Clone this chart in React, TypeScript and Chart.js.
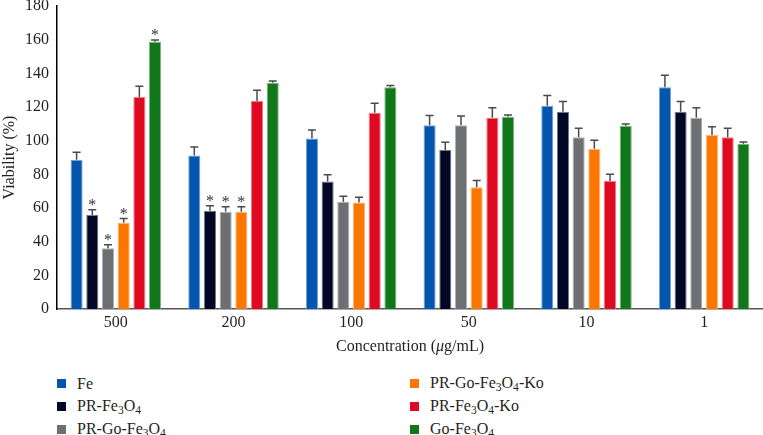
import React, { useEffect, useRef } from 'react';
import { Chart, registerables } from 'chart.js';

Chart.register(...registerables);

const FONT = "'Liberation Serif', 'Times New Roman', serif";
const TEXT = '#231f20';

// ---- data ----
const categories = ['500', '200', '100', '50', '10', '1'];
const yTicksMax = 180;
const yTickStep = 20;

const seriesNames = ['Fe', 'PR-Fe3O4', 'PR-Go-Fe3O4', 'PR-Go-Fe3O4-Ko', 'PR-Fe3O4-Ko', 'Go-Fe3O4'];

const feValues = [88.6, 91.2, 101.3, 109.2, 120.8, 131.8];
const feErrors = [4.5, 5.0, 5.0, 5.8, 6.0, 7.0];
const feMarks = ['', '', '', '', '', ''];

const prFe3O4Values = [55.9, 58.3, 75.7, 94.4, 117.2, 117.2];
const prFe3O4Errors = [3.0, 3.0, 4.0, 4.7, 6.0, 6.0];
const prFe3O4Marks = ['*', '*', '', '', '', ''];

const prGoFe3O4Values = [36.1, 57.7, 63.7, 109.2, 102.1, 113.6];
const prGoFe3O4Errors = [2.0, 3.0, 3.3, 5.4, 5.3, 6.0];
const prGoFe3O4Marks = ['*', '*', '', '', '', ''];

const prGoFe3O4KoValues = [51.2, 57.7, 63.2, 72.3, 95.2, 103.3];
const prGoFe3O4KoErrors = [2.5, 3.0, 3.2, 4.0, 5.0, 5.0];
const prGoFe3O4KoMarks = ['*', '*', '', '', '', ''];

const prFe3O4KoValues = [125.9, 123.5, 116.6, 113.6, 76.1, 102.1];
const prFe3O4KoErrors = [6.5, 6.4, 5.7, 6.0, 4.0, 5.3];
const prFe3O4KoMarks = ['', '', '', '', '', ''];

const goFe3O4Values = [158.8, 134.4, 131.8, 114.2, 108.9, 98.2];
const goFe3O4Errors = [1.0, 1.0, 1.0, 1.0, 1.0, 1.0];
const goFe3O4Marks = ['*', '', '', '', '', ''];

const xTitleParts = [
  { text: 'Concentration (', italic: false },
  { text: 'μ', italic: true },
  { text: 'g/mL)', italic: false },
];
const yTitle = 'Viability (%)';

// ---- styles ----
const colors = ['#0455ad', '#030726', '#6d6f72', '#fb7701', '#df0a1f', '#10771a'];

const allValues = [feValues, prFe3O4Values, prGoFe3O4Values, prGoFe3O4KoValues, prFe3O4KoValues, goFe3O4Values];
const allErrors = [feErrors, prFe3O4Errors, prGoFe3O4Errors, prGoFe3O4KoErrors, prFe3O4KoErrors, goFe3O4Errors];
const allMarks = [feMarks, prFe3O4Marks, prGoFe3O4Marks, prGoFe3O4KoMarks, prFe3O4KoMarks, goFe3O4Marks];

function tint(hex: string, amt: number) {
  const n = parseInt(hex.slice(1), 16);
  const r = (n >> 16) & 255, g = (n >> 8) & 255, b = n & 255;
  const m = (c: number) => Math.round(c + (255 - c) * amt);
  return `rgb(${m(r)},${m(g)},${m(b)})`;
}

const errorBarPlugin = {
  id: 'errorBars',
  afterDatasetsDraw(chart: any) {
    const ctx = chart.ctx;
    const y = chart.scales.y;
    ctx.save();
    allValues.forEach((vals, i) => {
      const meta = chart.getDatasetMeta(i);
      meta.data.forEach((el: any, j: number) => {
        const top = y.getPixelForValue(vals[j] + allErrors[i][j]);
        const x = el.x;
        ctx.strokeStyle = '#4a4a4a';
        ctx.lineWidth = 1.5;
        ctx.beginPath();
        ctx.moveTo(x, el.y);
        ctx.lineTo(x, top);
        ctx.moveTo(x - 4, top);
        ctx.lineTo(x + 4, top);
        ctx.stroke();
        const mark = allMarks[i][j];
        if (mark) {
          ctx.fillStyle = '#333';
          ctx.font = `16px ${FONT}`;
          ctx.textAlign = 'center';
          ctx.textBaseline = 'alphabetic';
          ctx.fillText(mark, x, top);
        }
      });
    });
    ctx.restore();
  },
};

const xTitlePlugin = {
  id: 'xTitle',
  afterDraw(chart: any) {
    const ctx = chart.ctx;
    const xs = chart.scales.x;
    const cx = (xs.left + xs.right) / 2;
    const cy = 347;
    ctx.save();
    ctx.fillStyle = TEXT;
    ctx.textBaseline = 'middle';
    ctx.textAlign = 'left';
    const fontOf = (it: boolean) => `${it ? 'italic ' : ''}16px ${FONT}`;
    let total = 0;
    xTitleParts.forEach((p) => {
      ctx.font = fontOf(p.italic);
      total += ctx.measureText(p.text).width;
    });
    let x = cx - total / 2;
    xTitleParts.forEach((p) => {
      ctx.font = fontOf(p.italic);
      ctx.fillText(p.text, x, cy);
      x += ctx.measureText(p.text).width;
    });
    ctx.restore();
  },
};

function renderName(name: string) {
  const parts = name.split(/(\d)/);
  return parts.map((p, k) =>
    /^\d$/.test(p) ? (
      <span key={k} style={{ fontSize: '0.72em', position: 'relative', top: '0.3em' }}>{p}</span>
    ) : (
      <span key={k}>{p}</span>
    )
  );
}

export default function App() {
  const ref = useRef<HTMLCanvasElement>(null);

  useEffect(() => {
    const chart = new Chart(ref.current as HTMLCanvasElement, {
      type: 'bar',
      data: {
        labels: categories,
        datasets: seriesNames.map((name, i) => ({
          label: name,
          data: allValues[i],
          backgroundColor: colors[i],
          borderColor: tint(colors[i], 0.45),
          borderWidth: 1,
          borderSkipped: 'bottom',
          categoryPercentage: 0.8,
          barPercentage: 0.77,
        })),
      },
      options: {
        responsive: false,
        animation: false,
        layout: { padding: { top: 0, left: 0, right: 0, bottom: 0 } },
        plugins: {
          legend: { display: false },
          tooltip: { enabled: false },
        },
        scales: {
          x: {
            grid: { display: false, drawTicks: false },
            border: { display: true, color: '#555', width: 1.5 },
            ticks: { color: TEXT, font: { family: FONT, size: 16 }, padding: 4 },
            afterFit: (s: any) => {
              s.height = 56;
            },
          },
          y: {
            min: 0,
            max: yTicksMax,
            grid: { display: false, drawTicks: false },
            border: { display: true, color: '#000', width: 1.5 },
            ticks: { stepSize: yTickStep, color: TEXT, font: { family: FONT, size: 16 }, padding: 8 },
            title: {
              display: true,
              text: yTitle,
              color: TEXT,
              font: { family: FONT, size: 16 },
              padding: { top: 0, bottom: 0 },
            },
            afterFit: (s: any) => {
              s.width = 57;
              s.paddingTop = 6;
            },
          },
        },
      },
      plugins: [errorBarPlugin, xTitlePlugin],
    } as any);
    return () => chart.destroy();
  }, []);

  const rowsY = [383.5, 406, 429];
  return (
    <div
      style={{
        position: 'fixed',
        left: 0,
        top: 0,
        width: 763,
        height: 435,
        background: '#fff',
        fontFamily: FONT,
        color: TEXT,
        overflow: 'hidden',
      }}
    >
      <canvas ref={ref} width={763} height={365} style={{ display: 'block', width: 763, height: 365 }} />
      {seriesNames.map((name, i) => {
        const col = Math.floor(i / 3);
        const row = i % 3;
        const left = col === 0 ? 57 : 410;
        return (
          <div
            key={name}
            style={{
              position: 'absolute',
              left,
              top: rowsY[row] - 8,
              height: 16,
              display: 'flex',
              alignItems: 'center',
              fontSize: 16,
              lineHeight: '16px',
              whiteSpace: 'nowrap',
            }}
          >
            <span style={{ display: 'inline-block', width: 9, height: 9, background: colors[i], marginRight: 11 }} />
            <span>{renderName(name)}</span>
          </div>
        );
      })}
    </div>
  );
}
